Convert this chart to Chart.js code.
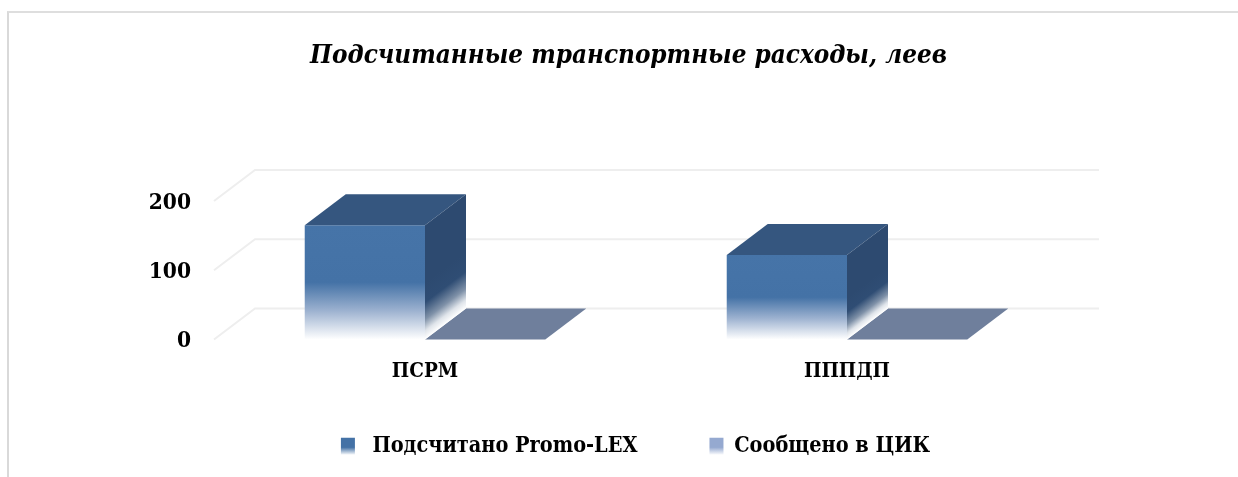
<!DOCTYPE html>
<html>
<head>
<meta charset="utf-8">
<script src="https://cdn.jsdelivr.net/npm/chart.js@4"></script>
<style>
  html, body { margin: 0; padding: 0; background: #fff; overflow: hidden; }
  #frame { position: absolute; left: 7px; top: 11px; right: 0; height: 480px;
           border-top: 2px solid #dedede; border-left: 2px solid #d9d9d9; }
  canvas { position: absolute; left: 0; top: 0; }
</style>
</head>
<body>
<div id="frame"></div>
<canvas id="bar-chart" width="1238" height="477"></canvas>
<script>
// Transport costs chart, 3D look is done by a plugin on top of normal bars

const categories = ['ПСРМ', 'ПППДП'];
const counted = [165, 122];
const reported = [0, 0];
const yTicks = [0, 100, 200];
const seriesNames = [' Подсчитано Promo-LEX', 'Сообщено в ЦИК'];

const fontFamily = '"DejaVu Serif Condensed", "DejaVu Serif", serif';
const depthX = 41;
const depthY = 31;

function frontFill(context) {
    const chart = context.chart;
    const area = chart.chartArea;
    if (!area || !context.parsed) return '#4472a6';
    const top = chart.scales.y.getPixelForValue(context.parsed.y);
    const grad = chart.ctx.createLinearGradient(0, top, 0, area.bottom);
    grad.addColorStop(0, '#4674a8');
    grad.addColorStop(0.5, '#4472a6');
    grad.addColorStop(0.75, '#9db2d0');
    grad.addColorStop(1, '#ffffff');
    return grad;
}

function swatch(ctx, color) {
    const grad = ctx.createLinearGradient(0, 438, 0, 455);
    grad.addColorStop(0, color);
    grad.addColorStop(0.55, color);
    grad.addColorStop(1, '#ffffff');
    return grad;
}

const depthPlugin = {
    id: 'depth',
    afterLayout(chart) {
        // legend sits a bit right of the centre in the original
        chart.legend.left += 7;
        chart.legend.right += 7;
        // the wide legend padding leaves the x axis a thin box, labels must not clip to it
        chart.scales.x.bottom += 50;
    },
    beforeDatasetsDraw(chart) {
        const ctx = chart.ctx;
        const y = chart.scales.y;
        const area = chart.chartArea;
        ctx.save();
        ctx.strokeStyle = '#eeeeee';
        ctx.lineWidth = 2;
        yTicks.forEach(v => {
            const py = y.getPixelForValue(v);
            ctx.beginPath();
            ctx.moveTo(area.left, py);
            ctx.lineTo(area.left + depthX, py - depthY);
            ctx.lineTo(area.right + depthX, py - depthY);
            ctx.stroke();
        });
        ctx.restore();
    },
    afterDatasetsDraw(chart) {
        const ctx = chart.ctx;
        ctx.save();
        chart.getDatasetMeta(1).data.forEach(bar => {
            const l = bar.x - bar.width / 2, r = bar.x + bar.width / 2;
            ctx.fillStyle = '#6f7f9c';
            ctx.beginPath();
            ctx.moveTo(l, bar.y);
            ctx.lineTo(l + depthX, bar.y - depthY);
            ctx.lineTo(r + depthX, bar.y - depthY);
            ctx.lineTo(r, bar.y);
            ctx.closePath();
            ctx.fill();
        });
        chart.getDatasetMeta(0).data.forEach(bar => {
            const l = bar.x - bar.width / 2, r = bar.x + bar.width / 2;
            const top = bar.y, base = bar.base;
            // top face
            ctx.fillStyle = '#35567f';
            ctx.beginPath();
            ctx.moveTo(l, top);
            ctx.lineTo(l + depthX, top - depthY);
            ctx.lineTo(r + depthX, top - depthY);
            ctx.lineTo(r, top);
            ctx.closePath();
            ctx.fill();
            // side face, fade runs across the slant of the edge
            const half = (base - top) / 2;
            const len = Math.hypot(depthX, depthY);
            const nx = depthY / len, ny = depthX / len;
            const t = half * ny;
            const grad = ctx.createLinearGradient(r, top + half, r + nx * t, top + half + ny * t);
            grad.addColorStop(0, '#2d4a70');
            grad.addColorStop(0.35, '#2f4d74');
            grad.addColorStop(0.65, '#7f91a8');
            grad.addColorStop(0.85, '#dfe4ea');
            grad.addColorStop(1, '#ffffff');
            ctx.fillStyle = grad;
            ctx.beginPath();
            ctx.moveTo(r, top);
            ctx.lineTo(r + depthX, top - depthY);
            ctx.lineTo(r + depthX, base - depthY);
            ctx.lineTo(r, base);
            ctx.closePath();
            ctx.fill();
        });
        ctx.restore();
    }
};

new Chart(
    document.getElementById('bar-chart'),
    {
        type: 'bar',
        plugins: [depthPlugin],
        data: {
            labels: categories,
            datasets: [
                { label: seriesNames[0], data: counted, backgroundColor: frontFill, borderWidth: 0 },
                { label: seriesNames[1], data: reported, backgroundColor: '#95a9d0', borderWidth: 0 }
            ]
        },
        options: {
            responsive: false,
            animation: false,
            layout: { padding: { left: 19, right: 0, top: 0, bottom: 10 } },
            datasets: { bar: { categoryPercentage: 0.57, barPercentage: 1 } },
            scales: {
                x: {
                    grid: { display: false },
                    border: { display: false },
                    ticks: {
                        color: '#000',
                        font: { family: fontFamily, size: 20.5, weight: 'bold' },
                        padding: 12
                    },
                    afterFit(scale) { scale.height = 24; }
                },
                y: {
                    min: 0,
                    max: 200,
                    grid: { display: false },
                    border: { display: false },
                    afterBuildTicks(scale) { scale.ticks = yTicks.map(value => ({ value })); },
                    ticks: {
                        color: '#000',
                        padding: 15,
                        labelOffset: 2,
                        font: { family: fontFamily, size: 22.5, weight: 'bold' }
                    },
                    afterFit(scale) { scale.width = 195; }
                },
                // empty axis, only keeps the space on the right of the plot
                yr: {
                    position: 'right',
                    grid: { display: false },
                    border: { display: false },
                    ticks: { display: false },
                    afterFit(scale) { scale.width = 180; }
                }
            },
            plugins: {
                tooltip: { enabled: false },
                title: {
                    display: true,
                    text: 'Подсчитанные транспортные расходы, леев',
                    color: '#000',
                    font: { family: fontFamily, size: 25.8, weight: 'bold', style: 'italic', lineHeight: 1.2 },
                    padding: { top: 41, bottom: 129 }
                },
                legend: {
                    position: 'bottom',
                    labels: {
                        color: '#000',
                        boxWidth: 14,
                        boxHeight: 17,
                        padding: 72,
                        font: { family: fontFamily, size: 21.5, weight: 'bold' },
                        generateLabels(chart) {
                            return seriesNames.map((name, i) => ({
                                text: name,
                                datasetIndex: i,
                                lineWidth: 0,
                                strokeStyle: 'transparent',
                                fontColor: '#000',
                                fillStyle: swatch(chart.ctx, i === 0 ? '#4472a6' : '#95a9d0')
                            }));
                        }
                    }
                }
            }
        }
    }
);
</script>
</body>
</html>
